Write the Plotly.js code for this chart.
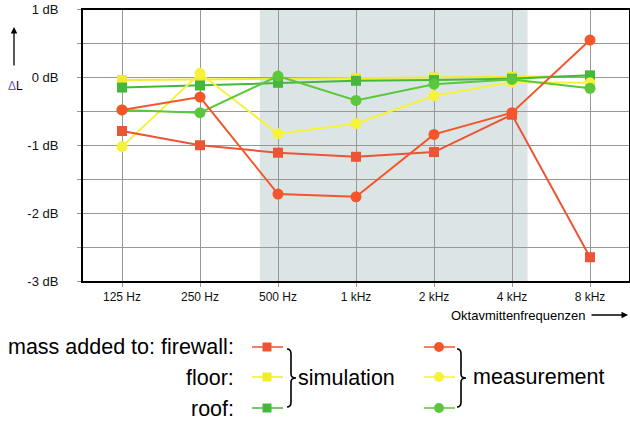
<!DOCTYPE html>
<html><head><meta charset="utf-8">
<script src="https://cdn.plot.ly/plotly-3.0.1.min.js"></script>
<style>html,body{margin:0;padding:0;background:#fff}#chart{width:630px;height:425px}</style>
</head><body><div id="chart"></div>
<script>
// ---- data ----
const bands = ['125 Hz','250 Hz','500 Hz','1 kHz','2 kHz','4 kHz','8 kHz'];
const simFirewall  = [-0.79, -1.00, -1.11, -1.17, -1.10, -0.55, -2.65];
const measFirewall = [-0.48, -0.29, -1.72, -1.76, -0.84, -0.52,  0.55];
const simFloor     = [-0.04, -0.03, -0.02, -0.01,  0.00,  0.01,  0.02];
const measFloor    = [-1.02,  0.06, -0.83, -0.68, -0.27, -0.07, -0.08];
const simRoof      = [-0.15, -0.12, -0.08, -0.05, -0.04, -0.02,  0.03];
const measRoof     = [-0.48, -0.52,  0.02, -0.34, -0.10, -0.03, -0.16];
const yTickVals = [-3, -2, -1, 0, 1];
const yTickText = ['-3 dB', '-2 dB', '-1 dB', '0 dB', '1 dB'];

// ---- styling helpers ----
const W = 630, H = 425;
const px = x => x / W, py = y => 1 - y / H;
const C = {
  simRed: '#ec5436', measRed: '#f4562a',
  simYel: '#f0ec28', measYel: '#f6f23a',
  simGrn: '#44b83a', measGrn: '#5cc63c'
};
const idx = bands.map((_, i) => i);
function series(y, color, symbol) {
  return {x: idx, y: y, type: 'scatter', mode: 'lines+markers',
    line: {color: color, width: 2},
    marker: {color: color, symbol: symbol, size: symbol === 'square' ? 10 : 11},
    xaxis: 'x', yaxis: 'y', showlegend: false, hoverinfo: 'skip', cliponaxis: false};
}
const traces = [
  series(simFloor, C.simYel, 'square'),
  series(simRoof, C.simGrn, 'square'),
  series(measFloor, C.measYel, 'circle'),
  series(measRoof, C.measGrn, 'circle'),
  series(simFirewall, C.simRed, 'square'),
  series(measFirewall, C.measRed, 'circle')
];

// legend samples drawn on a hidden pixel-mapped overlay axis
const rows = [347, 377, 408];
const simCols = [C.simRed, C.simYel, C.simGrn];
const measCols = [C.measRed, C.measYel, C.measGrn];
rows.forEach((ry, i) => {
  traces.push({x: [252, 267, 283], y: [ry, ry, ry], type: 'scatter', mode: 'lines',
    line: {color: simCols[i], width: 1.5}, xaxis: 'x2', yaxis: 'y2', showlegend: false, hoverinfo: 'skip'});
  traces.push({x: [267], y: [ry], type: 'scatter', mode: 'markers',
    marker: {color: simCols[i], symbol: 'square', size: 9}, xaxis: 'x2', yaxis: 'y2', showlegend: false, hoverinfo: 'skip'});
  traces.push({x: [424, 439, 455], y: [ry, ry, ry], type: 'scatter', mode: 'lines',
    line: {color: measCols[i], width: 1.5}, xaxis: 'x2', yaxis: 'y2', showlegend: false, hoverinfo: 'skip'});
  traces.push({x: [439], y: [ry], type: 'scatter', mode: 'markers',
    marker: {color: measCols[i], symbol: 'circle', size: 10}, xaxis: 'x2', yaxis: 'y2', showlegend: false, hoverinfo: 'skip'});
});

function brace(x0, xm, y0, y1) {
  const ym = (y0 + y1) / 2, r = 4;
  const P = (x, y) => px(x).toFixed(5) + ',' + py(y).toFixed(5);
  return 'M' + P(x0, y0) + ' Q' + P(x0 + r, y0) + ' ' + P(x0 + r, y0 + r + 1) +
    ' L' + P(x0 + r, ym - r) + ' Q' + P(x0 + r, ym) + ' ' + P(xm, ym) +
    ' Q' + P(x0 + r, ym) + ' ' + P(x0 + r, ym + r) +
    ' L' + P(x0 + r, y1 - r - 1) + ' Q' + P(x0 + r, y1) + ' ' + P(x0, y1);
}

const font = 'Liberation Sans, Arial, sans-serif';
const ann = (text, x, y, xanchor, size, extra) => Object.assign({
  text: text, x: px(x), y: py(y), xref: 'paper', yref: 'paper',
  xanchor: xanchor, yanchor: 'middle', showarrow: false,
  font: {family: font, size: size, color: '#000'}
}, extra || {});

const layout = {
  width: W, height: H,
  margin: {l: 0, r: 0, t: 0, b: 0},
  paper_bgcolor: '#fff', plot_bgcolor: 'rgba(0,0,0,0)',
  showlegend: false,
  xaxis: {
    domain: [px(83), px(629)], range: [-0.5, 6.5],
    tickvals: idx, ticktext: bands,
    showgrid: true, gridcolor: '#9c9694', gridwidth: 1,
    showline: true, linecolor: '#000', linewidth: 2, mirror: true,
    ticks: 'outside', ticklen: 4, tickcolor: '#9c9694',
    tickfont: {family: font, size: 12, color: '#111'},
    zeroline: false, fixedrange: true, automargin: false
  },
  yaxis: {
    domain: [py(281), py(9.5)], range: [-3, 1],
    tickvals: [-3, -2.5, -2, -1.5, -1, -0.5, 0, 0.5, 1],
    ticktext: yTickVals.flatMap((v, i) => i < yTickVals.length - 1 ? [yTickText[i], ''] : [yTickText[i]]),
    showgrid: true, gridcolor: '#9c9694', gridwidth: 1,
    showline: true, linecolor: '#000', linewidth: 2, mirror: true,
    ticks: 'outside', ticklen: 4, tickcolor: '#9c9694', ticklabelstandoff: 16,
    tickfont: {family: font, size: 13, color: '#111'},
    zeroline: false, fixedrange: true, automargin: false
  },
  xaxis2: {domain: [0, 1], range: [0, W], visible: false, anchor: 'y2', fixedrange: true},
  yaxis2: {domain: [0, 1], range: [H, 0], visible: false, anchor: 'x2', fixedrange: true},
  shapes: [
    {type: 'rect', xref: 'x', yref: 'paper', x0: 1.767, x1: 5.2, y0: py(281), y1: py(9.5),
     fillcolor: '#dce5e5', line: {width: 0}, layer: 'below'},
    {type: 'path', xref: 'paper', yref: 'paper', path: brace(287, 296, 349, 407),
     line: {color: '#000', width: 1.6}},
    {type: 'path', xref: 'paper', yref: 'paper', path: brace(457, 466, 349, 407),
     line: {color: '#000', width: 1.6}}
  ],
  annotations: [
    ann('mass added to: firewall:', 236, 347, 'right', 21.5),
    ann('floor:', 236, 378, 'right', 21.5),
    ann('roof:', 236, 409, 'right', 21.5),
    ann('simulation', 296, 378, 'left', 21.5),
    ann('measurement', 471, 377, 'left', 21.5),
    ann('Oktavmittenfrequenzen', 587, 315, 'right', 13),
    ann('<span style="color:#6a5ad0">Δ</span>L', 15, 86, 'center', 12),
    {x: px(628), y: py(315), xref: 'paper', yref: 'paper', text: '', showarrow: true,
     ax: -38, ay: 0, arrowhead: 2, arrowsize: 1, arrowwidth: 1.3, arrowcolor: '#000'},
    {x: px(14), y: py(27), xref: 'paper', yref: 'paper', text: '', showarrow: true,
     ax: 0, ay: 40, arrowhead: 2, arrowsize: 1, arrowwidth: 1.3, arrowcolor: '#000'}
  ]
};
Plotly.newPlot('chart', traces, layout, {displayModeBar: false, staticPlot: true});
</script></body></html>
